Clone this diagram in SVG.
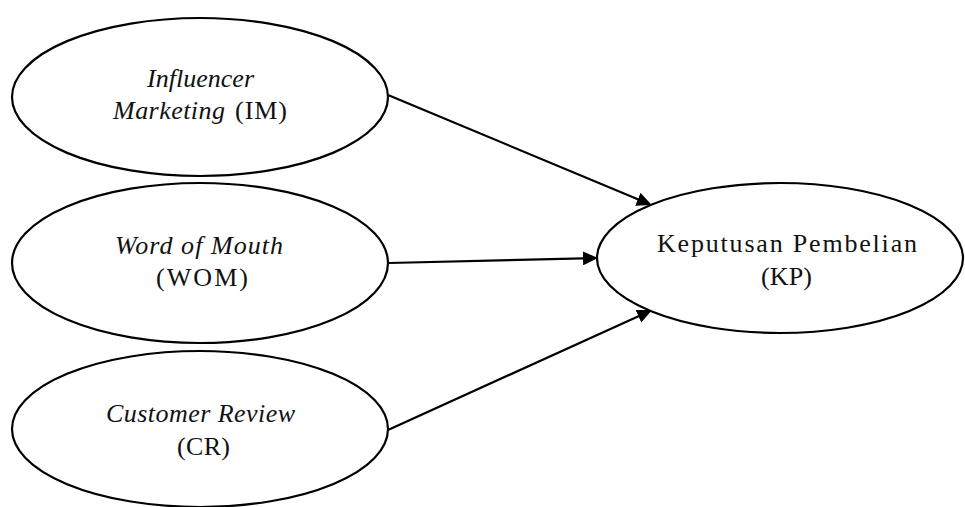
<svg xmlns="http://www.w3.org/2000/svg" width="965" height="507" viewBox="0 0 965 507">
<style>
.node{fill:#fff;stroke:#000;stroke-width:2.2}
.t{font-family:"Liberation Serif","Times New Roman",serif;font-size:26px;fill:#111}
.i{font-style:italic}
.edge{stroke:#000;stroke-width:2.2;fill:none}
</style>
<defs>
<marker id="ah" markerUnits="userSpaceOnUse" markerWidth="16" markerHeight="14" viewBox="0 0 16 14" refX="11" refY="7" orient="auto">
<path d="M0,0 L15,7 L0,14 z" fill="#000"/>
</marker>
</defs>
<rect width="965" height="507" fill="#fff"/>
<g id="connectors">
<line class="edge" x1="388" y1="95" x2="648" y2="203.5" marker-end="url(#ah)"/>
<line class="edge" x1="389" y1="263" x2="594" y2="258.1" marker-end="url(#ah)"/>
<line class="edge" x1="388" y1="430" x2="648.4" y2="311.7" marker-end="url(#ah)"/>
</g>
<g id="IM">
<ellipse class="node" cx="200" cy="97" rx="188" ry="79"/>
<text class="t"><tspan class="i" x="147" y="87" textLength="107" lengthAdjust="spacing">Influencer</tspan><tspan class="i" x="113" y="119" textLength="112" lengthAdjust="spacing">Marketing</tspan><tspan x="235" y="119" textLength="52" lengthAdjust="spacing">(IM)</tspan></text>
</g>
<g id="WOM">
<ellipse class="node" cx="200" cy="263" rx="188" ry="80"/>
<text class="t"><tspan class="i" x="115" y="254" textLength="168" lengthAdjust="spacing">Word of Mouth</tspan><tspan x="156" y="286" textLength="92" lengthAdjust="spacing">(WOM)</tspan></text>
</g>
<g id="CR">
<ellipse class="node" cx="200" cy="429" rx="188" ry="78"/>
<text class="t"><tspan class="i" x="106" y="422" textLength="189" lengthAdjust="spacing">Customer Review</tspan><tspan x="177" y="455" textLength="53" lengthAdjust="spacing">(CR)</tspan></text>
</g>
<g id="KP">
<ellipse class="node" cx="780" cy="258" rx="183" ry="75"/>
<text class="t"><tspan x="657" y="252" textLength="260" lengthAdjust="spacing">Keputusan Pembelian</tspan><tspan x="761" y="285" textLength="51" lengthAdjust="spacing">(KP)</tspan></text>
</g>
</svg>
